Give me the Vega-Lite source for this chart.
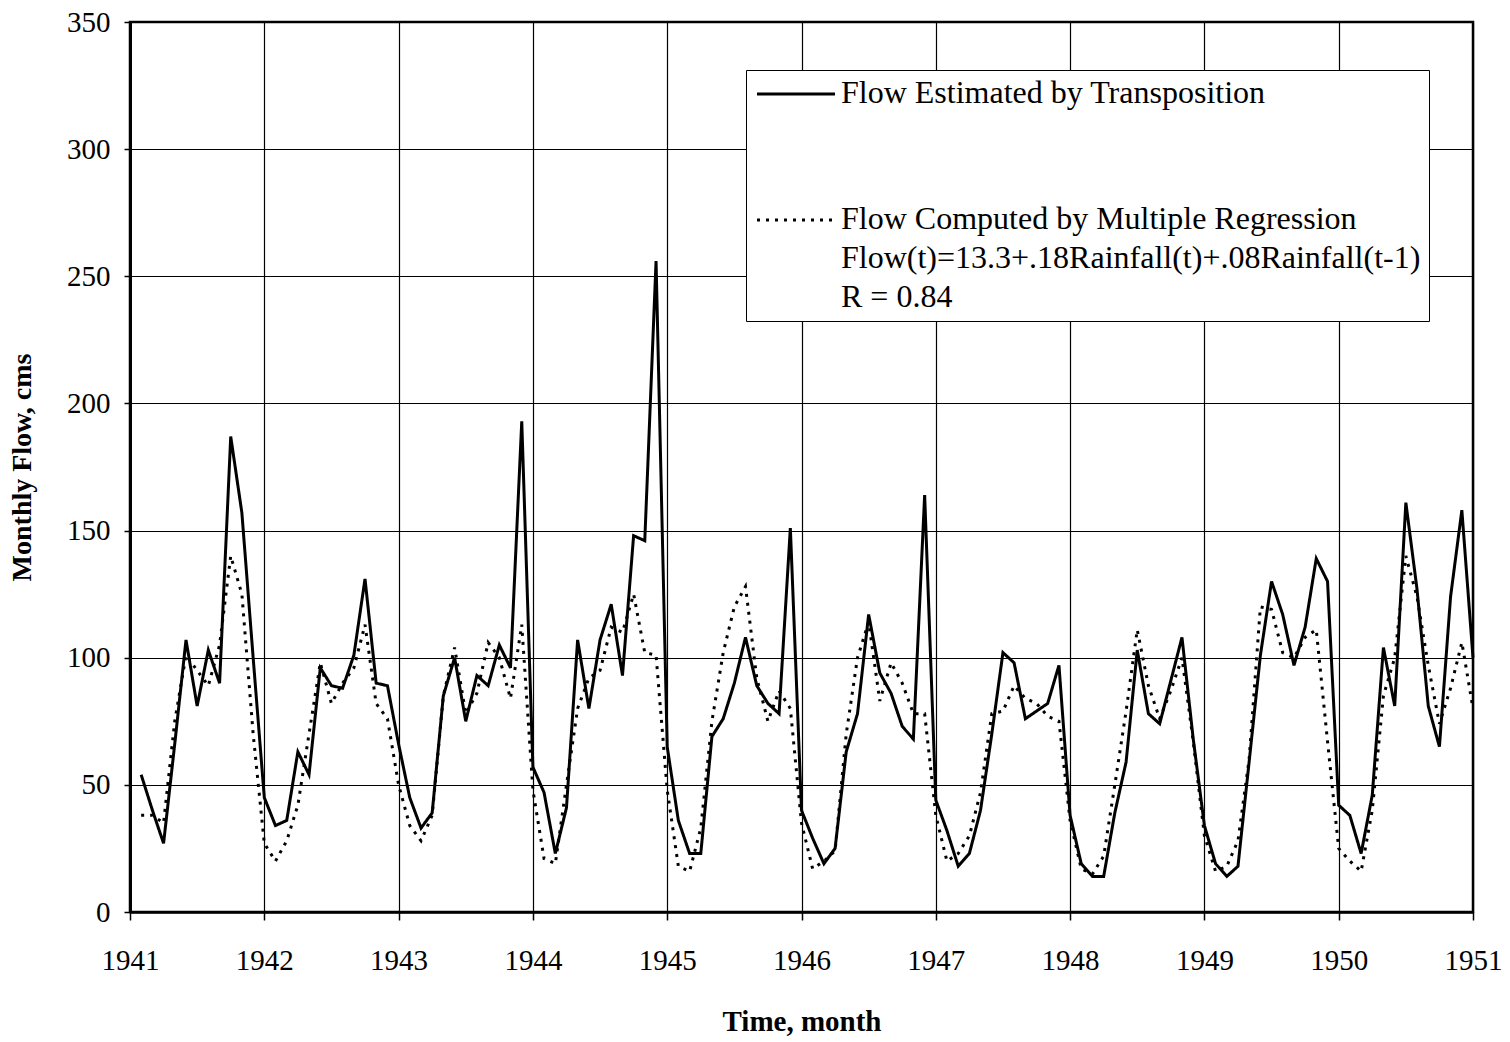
{
  "$schema": "https://vega.github.io/schema/vega-lite/v6.json",
  "width": 1343,
  "height": 890,
  "autosize": {"type": "none"},
  "padding": {"left": 130, "top": 22, "right": 37, "bottom": 130},
  "background": "white",
  "config": {
    "view": {"stroke": "black", "strokeWidth": 2.5},
    "font": "Liberation Serif"
  },
  "data": {
    "values": [
      {"t": 1941.083, "est": 54, "reg": 38},
      {"t": 1941.167, "est": 40, "reg": 38},
      {"t": 1941.25, "est": 27, "reg": 35},
      {"t": 1941.333, "est": 66, "reg": 75},
      {"t": 1941.417, "est": 107, "reg": 101},
      {"t": 1941.5, "est": 81, "reg": 95},
      {"t": 1941.583, "est": 103, "reg": 89},
      {"t": 1941.667, "est": 90, "reg": 105},
      {"t": 1941.75, "est": 187, "reg": 140},
      {"t": 1941.833, "est": 157, "reg": 125},
      {"t": 1941.917, "est": 100, "reg": 70},
      {"t": 1942.0, "est": 45, "reg": 27},
      {"t": 1942.083, "est": 34, "reg": 20},
      {"t": 1942.167, "est": 36, "reg": 28},
      {"t": 1942.25, "est": 63, "reg": 42},
      {"t": 1942.333, "est": 54, "reg": 70},
      {"t": 1942.417, "est": 96, "reg": 98},
      {"t": 1942.5, "est": 89, "reg": 82},
      {"t": 1942.583, "est": 88, "reg": 90},
      {"t": 1942.667, "est": 101, "reg": 96},
      {"t": 1942.75, "est": 131, "reg": 113},
      {"t": 1942.833, "est": 90, "reg": 82},
      {"t": 1942.917, "est": 89, "reg": 76},
      {"t": 1943.0, "est": 66, "reg": 50},
      {"t": 1943.083, "est": 45, "reg": 34},
      {"t": 1943.167, "est": 33, "reg": 28},
      {"t": 1943.25, "est": 39, "reg": 38},
      {"t": 1943.333, "est": 85, "reg": 85},
      {"t": 1943.417, "est": 100, "reg": 104},
      {"t": 1943.5, "est": 75, "reg": 78},
      {"t": 1943.583, "est": 93, "reg": 86},
      {"t": 1943.667, "est": 89, "reg": 106},
      {"t": 1943.75, "est": 105, "reg": 100},
      {"t": 1943.833, "est": 96, "reg": 84},
      {"t": 1943.917, "est": 193, "reg": 113},
      {"t": 1944.0, "est": 57, "reg": 48},
      {"t": 1944.083, "est": 47, "reg": 21},
      {"t": 1944.167, "est": 23, "reg": 19},
      {"t": 1944.25, "est": 41, "reg": 50},
      {"t": 1944.333, "est": 107, "reg": 80},
      {"t": 1944.417, "est": 80, "reg": 92},
      {"t": 1944.5, "est": 107, "reg": 95},
      {"t": 1944.583, "est": 121, "reg": 112},
      {"t": 1944.667, "est": 93, "reg": 110},
      {"t": 1944.75, "est": 148, "reg": 125},
      {"t": 1944.833, "est": 146, "reg": 102},
      {"t": 1944.917, "est": 256, "reg": 101},
      {"t": 1945.0, "est": 65, "reg": 48},
      {"t": 1945.083, "est": 36, "reg": 18},
      {"t": 1945.167, "est": 23, "reg": 16},
      {"t": 1945.25, "est": 23, "reg": 33},
      {"t": 1945.333, "est": 69, "reg": 75},
      {"t": 1945.417, "est": 76, "reg": 102},
      {"t": 1945.5, "est": 90, "reg": 120},
      {"t": 1945.583, "est": 108, "reg": 128},
      {"t": 1945.667, "est": 89, "reg": 92},
      {"t": 1945.75, "est": 82, "reg": 75},
      {"t": 1945.833, "est": 78, "reg": 87},
      {"t": 1945.917, "est": 151, "reg": 80},
      {"t": 1946.0, "est": 40, "reg": 35},
      {"t": 1946.083, "est": 29, "reg": 17},
      {"t": 1946.167, "est": 19, "reg": 20},
      {"t": 1946.25, "est": 25, "reg": 24},
      {"t": 1946.333, "est": 63, "reg": 70},
      {"t": 1946.417, "est": 78, "reg": 100},
      {"t": 1946.5, "est": 117, "reg": 114},
      {"t": 1946.583, "est": 94, "reg": 83},
      {"t": 1946.667, "est": 86, "reg": 98},
      {"t": 1946.75, "est": 73, "reg": 90},
      {"t": 1946.833, "est": 68, "reg": 78},
      {"t": 1946.917, "est": 164, "reg": 78},
      {"t": 1947.0, "est": 44, "reg": 38},
      {"t": 1947.083, "est": 32, "reg": 20},
      {"t": 1947.167, "est": 18, "reg": 23},
      {"t": 1947.25, "est": 23, "reg": 30},
      {"t": 1947.333, "est": 40, "reg": 47},
      {"t": 1947.417, "est": 70, "reg": 78},
      {"t": 1947.5, "est": 102, "reg": 79},
      {"t": 1947.583, "est": 98, "reg": 89},
      {"t": 1947.667, "est": 76, "reg": 84},
      {"t": 1947.75, "est": 79, "reg": 82},
      {"t": 1947.833, "est": 82, "reg": 77},
      {"t": 1947.917, "est": 97, "reg": 75},
      {"t": 1948.0, "est": 38, "reg": 36},
      {"t": 1948.083, "est": 19, "reg": 17},
      {"t": 1948.167, "est": 14, "reg": 15},
      {"t": 1948.25, "est": 14, "reg": 22},
      {"t": 1948.333, "est": 39, "reg": 50},
      {"t": 1948.417, "est": 59, "reg": 79},
      {"t": 1948.5, "est": 103, "reg": 111},
      {"t": 1948.583, "est": 78, "reg": 89},
      {"t": 1948.667, "est": 74, "reg": 76},
      {"t": 1948.75, "est": 91, "reg": 87},
      {"t": 1948.833, "est": 108, "reg": 100},
      {"t": 1948.917, "est": 68, "reg": 67},
      {"t": 1949.0, "est": 34, "reg": 30},
      {"t": 1949.083, "est": 19, "reg": 16},
      {"t": 1949.167, "est": 14, "reg": 18},
      {"t": 1949.25, "est": 18, "reg": 28},
      {"t": 1949.333, "est": 59, "reg": 60},
      {"t": 1949.417, "est": 101, "reg": 120},
      {"t": 1949.5, "est": 130, "reg": 119},
      {"t": 1949.583, "est": 117, "reg": 102},
      {"t": 1949.667, "est": 97, "reg": 100},
      {"t": 1949.75, "est": 112, "reg": 108},
      {"t": 1949.833, "est": 139, "reg": 111},
      {"t": 1949.917, "est": 130, "reg": 67},
      {"t": 1950.0, "est": 42, "reg": 25},
      {"t": 1950.083, "est": 38, "reg": 20},
      {"t": 1950.167, "est": 23, "reg": 16},
      {"t": 1950.25, "est": 46, "reg": 40},
      {"t": 1950.333, "est": 104, "reg": 85},
      {"t": 1950.417, "est": 81, "reg": 100},
      {"t": 1950.5, "est": 161, "reg": 140},
      {"t": 1950.583, "est": 127, "reg": 124},
      {"t": 1950.667, "est": 81, "reg": 97},
      {"t": 1950.75, "est": 65, "reg": 74},
      {"t": 1950.833, "est": 124, "reg": 88},
      {"t": 1950.917, "est": 158, "reg": 106},
      {"t": 1951.0, "est": 100, "reg": 80}
    ]
  },
  "transform": [{"fold": ["est", "reg"], "as": ["series", "flow"]}],
  "mark": {"type": "line", "color": "black", "strokeWidth": 3},
  "encoding": {
    "x": {
      "field": "t",
      "type": "quantitative",
      "scale": {"domain": [1941, 1951], "nice": false, "zero": false},
      "axis": {
        "title": "Time, month",
        "values": [1941, 1942, 1943, 1944, 1945, 1946, 1947, 1948, 1949, 1950, 1951],
        "format": "d",
        "grid": true,
        "gridColor": "black",
        "gridWidth": 1.2,
        "gridOpacity": 1,
        "domainColor": "black",
        "domainWidth": 2.5,
        "tickColor": "black",
        "tickSize": 8,
        "tickWidth": 1.5,
        "labelFont": "Liberation Serif",
        "labelFontSize": 29,
        "labelColor": "black",
        "labelPadding": 26,
        "labelFlush": false,
        "titleFont": "Liberation Serif",
        "titleFontSize": 29,
        "titleFontWeight": "bold",
        "titleColor": "black",
        "titlePadding": 32
      }
    },
    "y": {
      "field": "flow",
      "type": "quantitative",
      "scale": {"domain": [0, 350], "nice": false},
      "axis": {
        "title": "Monthly Flow, cms",
        "values": [0, 50, 100, 150, 200, 250, 300, 350],
        "grid": true,
        "gridColor": "black",
        "gridWidth": 1.2,
        "gridOpacity": 1,
        "domainColor": "black",
        "domainWidth": 3,
        "tickColor": "black",
        "tickSize": 6,
        "tickWidth": 1.5,
        "labelFont": "Liberation Serif",
        "labelFontSize": 29,
        "labelColor": "black",
        "labelPadding": 14,
        "labelFlush": false,
        "titleFont": "Liberation Serif",
        "titleFontSize": 28,
        "titleFontWeight": "bold",
        "titleColor": "black",
        "titlePadding": 30
      }
    },
    "strokeDash": {
      "field": "series",
      "type": "nominal",
      "scale": {"domain": ["est", "reg"], "range": [[1, 0], [3, 6]]},
      "legend": {
        "orient": "none",
        "legendX": 616,
        "legendY": 48,
        "title": null,
        "fillColor": "white",
        "strokeColor": "black",
        "padding": 8,
        "symbolType": "stroke",
        "symbolSize": 64,
        "symbolStrokeWidth": 2.8,
        "symbolStrokeColor": "black",
        "labelFont": "Liberation Serif",
        "labelFontSize": 32,
        "labelColor": "black",
        "labelLimit": 0,
        "labelOffset": 6,
        "rowPadding": 94,
        "labelBaseline": "top",
        "labelExpr": "datum.label == 'est' ? 'Flow Estimated by Transposition' : ['Flow Computed by Multiple Regression', 'Flow(t)=13.3+.18Rainfall(t)+.08Rainfall(t-1)', 'R = 0.84']",
        "encode": {
          "symbols": {"update": {"size": {"value": 6084}, "x": {"value": 42}, "y": {"value": 16}}},
          "labels": {"update": {"lineHeight": {"value": 39}, "dy": {"value": -16}, "y": {"value": 16}}}
        }
      }
    }
  }
}
